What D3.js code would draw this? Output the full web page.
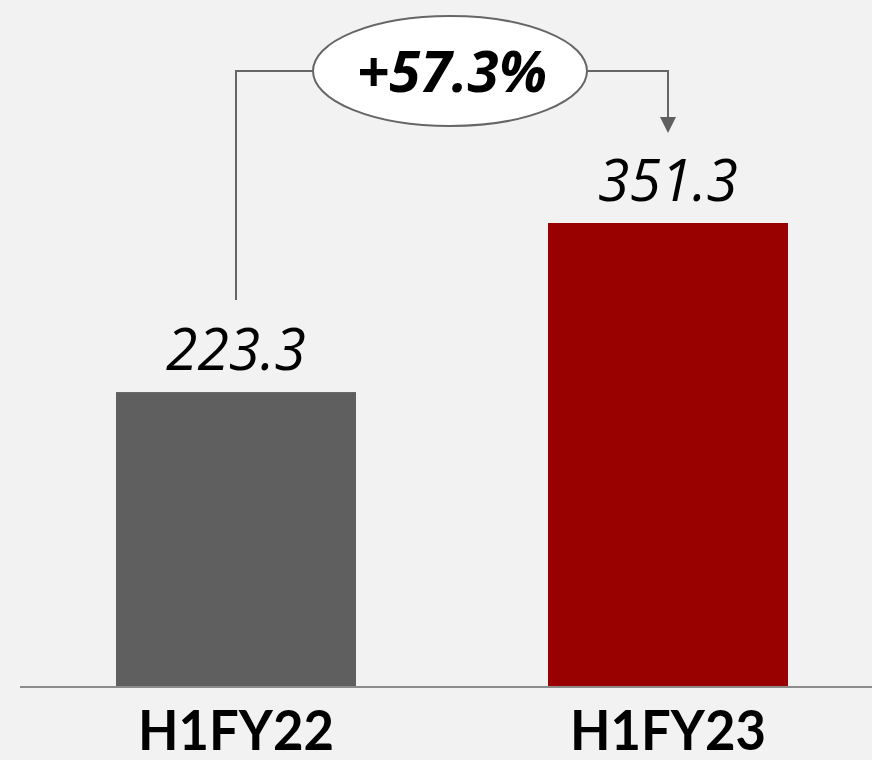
<!DOCTYPE html>
<html><head><meta charset="utf-8">
<script src="https://cdn.jsdelivr.net/npm/d3@7"></script>
<style>html,body{margin:0;padding:0;background:#f2f2f2;}svg{display:block;}</style>
</head><body>
<svg id="c" width="872" height="760"></svg>
<script>
const categories = ["H1FY22", "H1FY23"];
const values = [223.3, 351.3];
const valueLabels = ["223.3", "351.3"];
const barColors = ["#5f5f5f", "#990000"];
const growthLabel = "+57.3%";

const svg = d3.select("#c");
svg.append("rect").attr("width",872).attr("height",760).attr("fill","#f2f2f2");

const x = d3.scaleBand().domain(categories).range([20, 884]).paddingInner(0.4444).paddingOuter(0.2222);
const y = d3.scaleLinear().domain([0, 351.3]).range([687, 223]);

svg.selectAll("rect.bar").data(values).enter().append("rect")
  .attr("class","bar")
  .attr("x",(d,i)=>x(categories[i]))
  .attr("width",x.bandwidth())
  .attr("y",d=>y(d))
  .attr("height",d=>y(0)-y(d))
  .attr("fill",(d,i)=>barColors[i]);

// baseline axis
const axis = d3.axisBottom(x).tickSize(0).tickPadding(0);
const ag = svg.append("g").attr("transform",`translate(0,${y(0)})`).call(axis);
ag.select(".domain").attr("d","M20,0H872").attr("stroke","#8c8c8c").attr("stroke-width",2);
ag.selectAll(".tick text").remove();

// category labels
svg.selectAll("text.cat").data(categories).enter().append("text")
  .attr("class","cat")
  .attr("x",d=>x(d)+x.bandwidth()/2)
  .attr("y",750)
  .attr("text-anchor","middle")
  .attr("font-family","Lato, 'Open Sans', sans-serif")
  .attr("font-weight","bold")
  .attr("font-size",56)
  .attr("textLength",196).attr("lengthAdjust","spacingAndGlyphs")
  .attr("fill","#000")
  .text(d=>d);

// value labels
svg.selectAll("text.val").data(values).enter().append("text")
  .attr("class","val")
  .attr("x",(d,i)=>x(categories[i])+x.bandwidth()/2)
  .attr("y",d=>y(d)-22)
  .attr("text-anchor","middle")
  .attr("font-family","'Open Sans', sans-serif")
  .attr("font-style","italic")
  .attr("font-size",58)
  .attr("textLength",140).attr("lengthAdjust","spacingAndGlyphs")
  .attr("fill","#000")
  .text((d,i)=>valueLabels[i]);

// connector
const cx0 = x(categories[0])+x.bandwidth()/2;
const cx1 = x(categories[1])+x.bandwidth()/2;
const lineY = 71;
const ex = (cx0+cx1)/2 - 2, erx = 137, ery = 55;
svg.append("path")
  .attr("d",`M${cx0},${y(values[0])-92}V${lineY}H${ex-erx}`)
  .attr("fill","none").attr("stroke","#666").attr("stroke-width",2);
svg.append("path")
  .attr("d",`M${ex+erx},${lineY}H${cx1}V${118}`)
  .attr("fill","none").attr("stroke","#666").attr("stroke-width",2);
svg.append("path")
  .attr("d",`M${cx1-8},117L${cx1+8},117L${cx1},133Z`)
  .attr("fill","#5f5f5f");
svg.append("ellipse")
  .attr("cx",ex).attr("cy",lineY).attr("rx",erx).attr("ry",ery)
  .attr("fill","#fff").attr("stroke","#666").attr("stroke-width",2);
svg.append("text")
  .attr("x",ex+2).attr("y",92)
  .attr("text-anchor","middle")
  .attr("font-family","'Open Sans', sans-serif")
  .attr("font-style","italic").attr("font-weight","bold")
  .attr("font-size",58)
  .attr("textLength",190).attr("lengthAdjust","spacingAndGlyphs")
  .attr("fill","#000")
  .text(growthLabel);
</script>
</body></html>
